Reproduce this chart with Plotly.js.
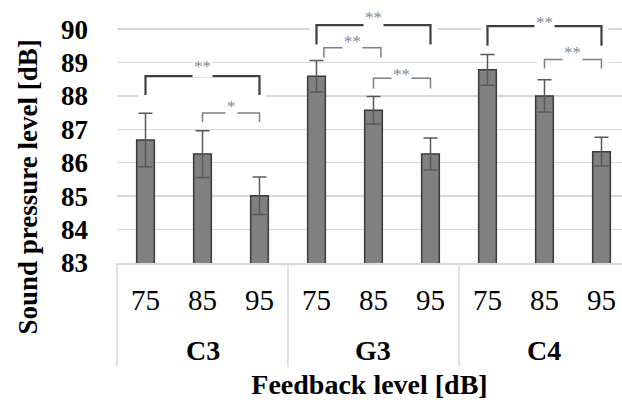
<!DOCTYPE html>
<html><head><meta charset="utf-8">
<script src="https://cdn.plot.ly/plotly-3.0.1.min.js"></script>
<style>html,body{margin:0;padding:0;background:#fff}</style>
</head><body><div id="chart" style="width:622px;height:400px"></div>
<script>
// ---- data ----
const noteGroups = ['C3', 'G3', 'C4'];
const feedbackLevels = ['75', '85', '95'];
const splC3 = [86.68, 86.26, 85.01];
const splG3 = [88.59, 87.57, 86.26];
const splC4 = [88.78, 88.00, 86.33];
const errC3 = [0.80, 0.70, 0.56];
const errG3 = [0.47, 0.41, 0.48];
const errC4 = [0.46, 0.48, 0.43];
const yTicks = [83, 84, 85, 86, 87, 88, 89, 90];
const yTitle = 'Sound pressure level [dB]';
const xTitle = 'Feedback level [dB]';
// significance brackets (bar index from/to, bracket top in dB, leg length in dB, label, label level)
const brFrom = [0, 1, 3, 3.13, 4, 6, 7];
const brTo = [2, 2, 5, 4.13, 5, 8, 8];
const brTop = [88.59, 87.49, 90.12, 89.44, 88.53, 90.09, 89.09];
const brLeg = [0.56, 0.27, 0.58, 0.29, 0.31, 0.59, 0.27];
const brLabel = ['**', '*', '**', '**', '**', '**', '**'];
const brLabelY = [89.0, 87.8, 90.48, 89.76, 88.77, 90.31, 89.42];
const brHeavy = [true, false, true, false, false, true, false];

// ---- build ----
const SERIF = '"Liberation Serif", "Times New Roman", Times, serif';
const splAll = [splC3, splG3, splC4];
const errAll = [errC3, errG3, errC4];
const nL = feedbackLevels.length;
const xIdx = [], yVal = [], eVal = [], tickText = [];
noteGroups.forEach((g, gi) => {
  feedbackLevels.forEach((lv, li) => {
    xIdx.push(gi * nL + li);
    yVal.push(splAll[gi][li]);
    eVal.push(errAll[gi][li]);
    tickText.push(lv);
  });
});

const plotH = 400 - 9 - 137;
const shapes = [];
const annotations = [];
// category dividers
for (let gi = 0; gi < noteGroups.length; gi++) {
  const xb = gi * nL - 0.5;
  if (gi === 0) {
    shapes.push({type: 'line', xref: 'paper', yref: 'paper', x0: 0, x1: 0, y0: 0, y1: -104 / plotH,
      line: {color: '#d9d9d9', width: 1.5}});
  } else {
    shapes.push({type: 'line', xref: 'x', yref: 'paper', x0: xb, x1: xb, y0: 0, y1: -104 / plotH,
      line: {color: '#d9d9d9', width: 1.5}});
  }
  annotations.push({xref: 'x', yref: 'paper', x: gi * nL + (nL - 1) / 2, y: 0, yanchor: 'middle',
    yshift: -87, text: noteGroups[gi], showarrow: false,
    font: {size: 28, weight: 'bold', color: '#000', family: SERIF}});
}
// brackets
for (let i = 0; i < brFrom.length; i++) {
  const a = brFrom[i], b = brTo[i], t = brTop[i], bot = t - brLeg[i];
  shapes.push({type: 'rect', layer: 'between', xref: 'x', yref: 'y', x0: a - 0.12, x1: b + 0.12,
    y0: bot - 0.06, y1: t + 0.06, fillcolor: '#fff', line: {width: 0}});
  shapes.push({type: 'path', xref: 'x', yref: 'y',
    path: `M ${a},${bot} L ${a},${t} L ${b},${t} L ${b},${bot}`,
    line: {color: brHeavy[i] ? '#3f3f3f' : '#7f7f7f', width: brHeavy[i] ? 2.2 : 1.5}});
  annotations.push({xref: 'x', yref: 'y', x: (a + b) / 2, y: brLabelY[i], yanchor: 'middle', yshift: -4,
    text: brLabel[i], showarrow: false, bgcolor: '#fff', borderpad: 1,
    font: {size: 17, color: '#808a96', family: SERIF}});
}
// y-axis title (centred lower than the plot centre, as in the reference)
annotations.push({xref: 'paper', yref: 'paper', x: 0, y: 0, xanchor: 'center', yanchor: 'middle',
  xshift: -89.5, yshift: 76, textangle: -90, text: yTitle, showarrow: false,
  font: {size: 27, weight: 'bold', color: '#000', family: SERIF}});

const trace = {
  type: 'bar', x: xIdx, y: yVal, width: 0.31,
  marker: {color: '#808080', line: {color: '#3a3a3a', width: 1.5}},
  error_y: {type: 'data', array: eVal, visible: true, color: '#595959', thickness: 1.5, width: 7},
  hoverinfo: 'skip'
};

const layout = {
  width: 622, height: 400,
  margin: {l: 117, r: 0, t: 9, b: 137},
  paper_bgcolor: '#fff', plot_bgcolor: '#fff',
  showlegend: false,
  font: {family: SERIF, color: '#000'},
  xaxis: {
    range: [-0.5, 8.36], tickmode: 'array', tickvals: xIdx, ticktext: tickText, ticks: '',
    showgrid: false, zeroline: false, showline: true, linecolor: '#d9d9d9', linewidth: 1.5,
    tickfont: {size: 29, color: '#000', family: SERIF}, ticklabelstandoff: 11,
    title: {text: xTitle, font: {size: 28, weight: 'bold', color: '#000', family: SERIF}, standoff: 64}
  },
  yaxis: {
    range: [83, 90.6], tickmode: 'array', tickvals: yTicks, ticks: '',
    showgrid: true, gridcolor: '#d9d9d9', gridwidth: 1.5, zeroline: false, showline: false,
    tickfont: {size: 27, weight: 'bold', color: '#000', family: SERIF}, ticklabelstandoff: 28
  },
  shapes: shapes,
  annotations: annotations
};

Plotly.newPlot('chart', [trace], layout, {staticPlot: true, displayModeBar: false});
</script></body></html>
